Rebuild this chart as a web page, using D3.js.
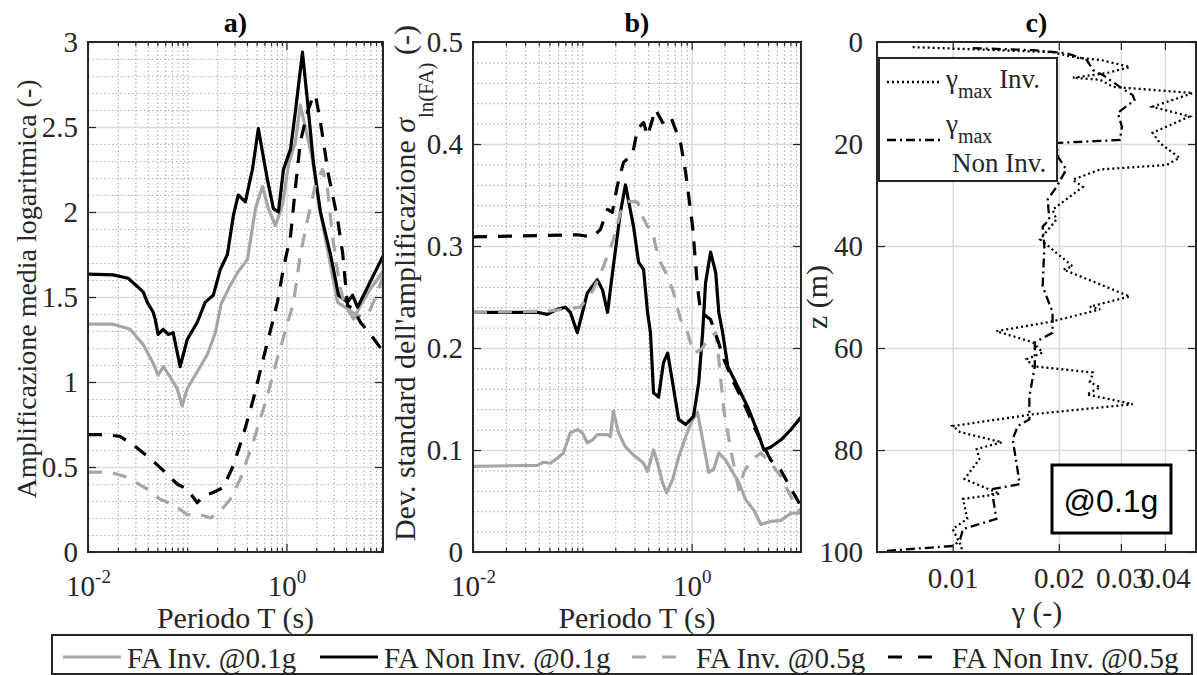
<!DOCTYPE html>
<html>
<head>
<meta charset="utf-8">
<script src="https://cdn.jsdelivr.net/npm/d3@7/dist/d3.min.js"></script>
<style>
  body { margin: 0; background: #fff; }
  svg text { font-family: "Liberation Serif", "Times New Roman", serif; fill: #262626; }
</style>
</head>
<body>
<svg id="fig" width="1197" height="675"></svg>
<script>
// ---- data: [period (s), value] ----
const faInv01A = [[0.01,1.34],[0.0179,1.34],[0.0266,1.31],[0.036,1.22],[0.0454,1.11],[0.0509,1.04],[0.0573,1.09],[0.0673,1.03],[0.0792,0.96],[0.089,0.86],[0.1,0.96],[0.126,1.06],[0.159,1.16],[0.192,1.29],[0.22,1.46],[0.272,1.57],[0.327,1.65],[0.404,1.72],[0.487,2.02],[0.573,2.15],[0.658,2.02],[0.774,1.92],[0.911,2.04],[1.05,2.28],[1.23,2.41],[1.38,2.63],[1.56,2.49],[1.83,2.31],[2.10,2.06],[2.65,1.75],[3.27,1.47],[4.13,1.43],[4.75,1.37],[5.58,1.45],[7.04,1.55],[9.4,1.65]];
const faNonInv01A = [[0.01,1.635],[0.0179,1.63],[0.0254,1.61],[0.036,1.53],[0.0395,1.47],[0.0454,1.41],[0.0475,1.37],[0.0509,1.28],[0.0573,1.31],[0.0643,1.28],[0.0722,1.29],[0.0849,1.09],[0.1,1.25],[0.126,1.35],[0.152,1.47],[0.183,1.51],[0.215,1.66],[0.254,1.75],[0.292,1.98],[0.327,2.1],[0.385,2.06],[0.454,2.25],[0.521,2.49],[0.643,2.19],[0.739,2.02],[0.83,2.0],[0.933,2.25],[1.10,2.37],[1.23,2.59],[1.45,2.94],[1.63,2.65],[1.87,2.29],[2.20,2.0],[2.78,1.75],[3.35,1.51],[4.13,1.47],[4.64,1.51],[5.21,1.44],[5.99,1.51],[7.56,1.63],[9.4,1.74]];
const faInv05A = [[0.01,0.47],[0.0167,0.47],[0.0248,0.44],[0.0395,0.37],[0.0533,0.31],[0.0722,0.28],[0.1,0.22],[0.135,0.22],[0.171,0.20],[0.215,0.24],[0.272,0.31],[0.343,0.43],[0.464,0.65],[0.643,0.92],[0.811,1.14],[1.02,1.34],[1.18,1.47],[1.38,1.75],[1.67,1.98],[1.96,2.16],[2.31,2.25],[2.59,2.14],[2.91,1.86],[3.35,1.61],[3.77,1.47],[4.13,1.43],[5.21,1.39],[6.57,1.39],[7.93,1.5],[9.4,1.62]];
const faNonInv05A = [[0.01,0.69],[0.0156,0.69],[0.021,0.68],[0.0285,0.63],[0.0423,0.55],[0.0573,0.48],[0.0792,0.40],[0.1,0.37],[0.126,0.29],[0.145,0.33],[0.183,0.35],[0.231,0.38],[0.292,0.51],[0.368,0.69],[0.464,0.9],[0.586,1.14],[0.722,1.35],[0.811,1.47],[0.933,1.67],[1.10,1.86],[1.23,2.14],[1.38,2.41],[1.63,2.59],[1.83,2.67],[1.96,2.69],[2.20,2.53],[2.65,2.22],[3.27,1.96],[3.68,1.76],[3.95,1.57],[4.13,1.45],[4.75,1.43],[5.58,1.35],[7.04,1.28],[9.4,1.18]];

const faInv01B = [[0.01,0.084],[0.0387,0.085],[0.0439,0.088],[0.0509,0.087],[0.059,0.092],[0.067,0.097],[0.0776,0.117],[0.09,0.12],[0.1,0.117],[0.111,0.107],[0.124,0.11],[0.137,0.115],[0.17,0.115],[0.181,0.113],[0.192,0.138],[0.214,0.117],[0.248,0.103],[0.294,0.095],[0.363,0.087],[0.395,0.079],[0.448,0.1],[0.488,0.087],[0.542,0.068],[0.59,0.058],[0.67,0.071],[0.76,0.093],[0.881,0.113],[1.02,0.13],[1.13,0.137],[1.26,0.11],[1.43,0.078],[1.59,0.081],[1.77,0.097],[2.05,0.09],[2.38,0.078],[2.70,0.068],[3.13,0.051],[3.71,0.041],[4.30,0.027],[5.31,0.03],[6.56,0.031],[8.09,0.038],[10,0.038]];
const faNonInv01B = [[0.01,0.235],[0.0387,0.235],[0.0477,0.233],[0.059,0.238],[0.0699,0.24],[0.0776,0.235],[0.09,0.215],[0.102,0.238],[0.111,0.254],[0.137,0.267],[0.153,0.257],[0.17,0.235],[0.192,0.28],[0.223,0.333],[0.248,0.36],[0.294,0.319],[0.327,0.284],[0.363,0.277],[0.395,0.235],[0.42,0.215],[0.448,0.156],[0.498,0.152],[0.553,0.186],[0.603,0.195],[0.67,0.166],[0.76,0.13],[0.881,0.125],[1.04,0.133],[1.16,0.166],[1.26,0.215],[1.34,0.264],[1.49,0.294],[1.66,0.274],[1.77,0.235],[1.92,0.215],[2.14,0.182],[2.64,0.162],[3.26,0.142],[4.03,0.117],[4.58,0.1],[5.31,0.103],[6.56,0.11],[8.09,0.12],[10,0.132]];
const faInv05B = [[0.01,0.235],[0.0477,0.236],[0.0959,0.24],[0.126,0.257],[0.156,0.28],[0.192,0.306],[0.223,0.333],[0.259,0.344],[0.32,0.343],[0.355,0.329],[0.395,0.319],[0.439,0.316],[0.467,0.3],[0.519,0.284],[0.603,0.27],[0.684,0.254],[0.76,0.235],[0.793,0.228],[0.918,0.215],[1.04,0.195],[1.21,0.198],[1.49,0.211],[1.66,0.215],[1.77,0.189],[1.97,0.139],[2.28,0.1],[2.70,0.061],[3.0,0.078],[3.48,0.09],[4.30,0.097],[5.31,0.087],[6.56,0.074],[8.09,0.054],[10,0.038]];
const faNonInv05B = [[0.01,0.309],[0.09,0.311],[0.124,0.309],[0.146,0.316],[0.17,0.336],[0.188,0.333],[0.209,0.359],[0.238,0.382],[0.288,0.39],[0.32,0.415],[0.363,0.421],[0.395,0.408],[0.467,0.434],[0.542,0.421],[0.642,0.427],[0.793,0.401],[0.881,0.372],[1.02,0.319],[1.13,0.26],[1.21,0.235],[1.49,0.228],[1.73,0.208],[1.97,0.189],[2.43,0.166],[3.0,0.146],[3.71,0.123],[4.58,0.103],[5.31,0.09],[6.56,0.08],[8.09,0.062],[10,0.045]];

// panel c: [gamma (-), depth z (m)]
const gammaInv = [[0.0077,1.0],[0.0192,2.0],[0.0225,3.1],[0.0262,3.5],[0.0318,4.9],[0.0274,6.1],[0.0219,7.0],[0.0262,7.4],[0.0285,8.8],[0.048,10],[0.0369,12.7],[0.047,14.6],[0.0369,17.8],[0.0387,19.8],[0.044,22.7],[0.0405,24.1],[0.0262,25],[0.0219,27],[0.0234,28.4],[0.0192,32.9],[0.0197,34.8],[0.0177,38.7],[0.0219,44],[0.0206,44.6],[0.0318,49.9],[0.0245,51.9],[0.0262,52.4],[0.0192,54.8],[0.0133,56.7],[0.0169,58.9],[0.018,60.9],[0.0162,62.2],[0.0169,63.6],[0.025,64.8],[0.0245,66.7],[0.0262,67.7],[0.024,69.1],[0.0324,71],[0.0169,73],[0.01,75.3],[0.0105,76.5],[0.0138,78.5],[0.0117,79.8],[0.0119,81.8],[0.0108,85.7],[0.0136,88.6],[0.0107,89.6],[0.011,93.5],[0.01,95.5],[0.0106,99],[0.0106,100]];
const gammaNonInv = [[0.0114,1.2],[0.0169,1.6],[0.021,2.2],[0.024,3.5],[0.025,5.5],[0.0267,6.5],[0.0298,8.8],[0.0324,10.4],[0.0328,11.4],[0.0294,13.9],[0.0302,16.6],[0.0298,19.2],[0.0197,19.8],[0.0199,22.5],[0.021,25],[0.0197,28.4],[0.0186,30.9],[0.0188,34.8],[0.018,36.2],[0.0182,40.1],[0.018,47.9],[0.0192,53],[0.0192,57],[0.0171,58.9],[0.0171,63.6],[0.0165,69.5],[0.0165,74],[0.0153,75.3],[0.0148,77.9],[0.0155,86.7],[0.0129,87.7],[0.0133,93.5],[0.0107,95.5],[0.0105,97.5],[0.0101,98.8],[0.0064,99.8]];

// ---- ticks and labels ----
const yTicksA = [0, 0.5, 1, 1.5, 2, 2.5, 3];
const yTicksB = [0, 0.1, 0.2, 0.3, 0.4, 0.5];
const periodTicks = [0.01, 1];
const periodTickExp = ["-2", "0"];
const depthTicks = [0, 20, 40, 60, 80, 100];
const gammaTicks = [0.01, 0.02, 0.03, 0.04];
const legendLabels = ["FA Inv. @0.1g", "FA Non Inv. @0.1g", "FA Inv. @0.5g", "FA Non Inv. @0.5g"];

const AX = "#262626", GRAY = "#a6a6a6", GRID = "#dcdcdc", MINOR = "#b4b4b4";
const DASH = "14,11";
const TICK_FONT = 29;
const seriesStyle = [
  { color: GRAY, dash: null },
  { color: "#000", dash: null },
  { color: GRAY, dash: DASH },
  { color: "#000", dash: DASH }
];

const svg = d3.select("#fig");
const TOP = 42, BOTTOM = 552;

// minor positions of a log axis (2..9 x 10^k, plus 0.1 which has no label)
function logMinor(lo, hi) {
  const v = [];
  for (let k = -2; k <= 1; k++) {
    for (let m = 1; m <= 9; m++) {
      const t = +(m * Math.pow(10, k)).toPrecision(3);
      if (t > lo * 1.001 && t < hi * 0.999 && t !== 1) v.push(t);
    }
  }
  return v;
}

function styleAxis(g) {
  g.attr("font-family", null).attr("font-size", null).attr("color", AX);
  g.select(".domain").remove();
  g.selectAll("line").attr("stroke-width", 1.2);
}

function spectrumPanel(p) {
  const x = d3.scaleLog().domain([0.01, p.tMax]).range([p.left, p.right]);
  const y = d3.scaleLinear().domain([0, p.yMax]).range([BOTTOM, TOP]);
  const w = p.right - p.left, h = BOTTOM - TOP;
  const g = svg.append("g");

  // dotted minor grid
  const nMinor = Math.round(p.yMax / p.yMinor);
  const ratio = Math.round(p.yMajor / p.yMinor);
  const yMinorVals = d3.range(1, nMinor).filter(i => i % ratio !== 0).map(i => i * p.yMinor);
  g.append("g").attr("transform", `translate(0,${BOTTOM})`)
    .call(d3.axisBottom(x).tickValues(logMinor(0.01, p.tMax)).tickSize(-h).tickFormat(""))
    .call(styleAxis)
    .selectAll("line").attr("stroke", MINOR).attr("stroke-dasharray", "1.5,2.5");
  g.append("g").attr("transform", `translate(${p.left},0)`)
    .call(d3.axisLeft(y).tickValues(yMinorVals).tickSize(-w).tickFormat(""))
    .call(styleAxis)
    .selectAll("line").attr("stroke", MINOR).attr("stroke-dasharray", "1.5,2.5");

  // solid major grid
  g.append("g").attr("transform", `translate(0,${BOTTOM})`)
    .call(d3.axisBottom(x).tickValues([1]).tickSize(-h).tickFormat(""))
    .call(styleAxis)
    .selectAll("line").attr("stroke", GRID).attr("stroke-width", 1.5);
  g.append("g").attr("transform", `translate(${p.left},0)`)
    .call(d3.axisLeft(y).tickValues(p.yTicks.slice(1, -1)).tickSize(-w).tickFormat(""))
    .call(styleAxis)
    .selectAll("line").attr("stroke", GRID).attr("stroke-width", 1.5);

  // curves
  const clipId = "clip-" + p.name;
  g.append("clipPath").attr("id", clipId).append("rect")
    .attr("x", p.left).attr("y", TOP).attr("width", w).attr("height", h);
  const line = d3.line().x(d => x(d[0])).y(d => y(d[1]));
  p.series.forEach((s, i) => {
    g.append("path").datum(s)
      .attr("clip-path", `url(#${clipId})`)
      .attr("fill", "none")
      .attr("stroke", seriesStyle[i].color)
      .attr("stroke-width", 3.2)
      .attr("stroke-linejoin", "round")
      .attr("stroke-dasharray", seriesStyle[i].dash)
      .attr("d", line);
  });

  // ticks: minor on x, major on both
  g.append("g").attr("transform", `translate(0,${BOTTOM})`)
    .call(d3.axisBottom(x).tickValues(logMinor(0.01, p.tMax)).tickSize(-4).tickFormat(""))
    .call(styleAxis);
  g.append("g").attr("transform", `translate(0,${TOP})`)
    .call(d3.axisTop(x).tickValues(logMinor(0.01, p.tMax)).tickSize(-4).tickFormat(""))
    .call(styleAxis);
  g.append("g").attr("transform", `translate(0,${TOP})`)
    .call(d3.axisTop(x).tickValues(periodTicks).tickSize(-8).tickFormat(""))
    .call(styleAxis);
  g.append("g").attr("transform", `translate(${p.right},0)`)
    .call(d3.axisRight(y).tickValues(p.yTicks).tickSize(-8).tickFormat(""))
    .call(styleAxis);

  const xAx = g.append("g").attr("transform", `translate(0,${BOTTOM})`)
    .call(d3.axisBottom(x).tickValues(periodTicks).tickSize(-8).tickFormat(""))
    .call(styleAxis);
  xAx.selectAll(".tick text").each(function (d, i) {
    const t = d3.select(this).attr("y", 44).attr("dy", null).attr("font-size", TICK_FONT).text("10");
    t.append("tspan").attr("dy", -13).attr("font-size", 19).text(periodTickExp[i]);
  });

  g.append("g").attr("transform", `translate(${p.left},0)`)
    .call(d3.axisLeft(y).tickValues(p.yTicks).tickSize(-8).tickPadding(10).tickFormat(d3.format("")))
    .call(styleAxis)
    .selectAll("text").attr("font-size", TICK_FONT).attr("dy", "0.33em");

  // frame
  g.append("rect").attr("x", p.left).attr("y", TOP).attr("width", w).attr("height", h)
    .attr("fill", "none").attr("stroke", AX).attr("stroke-width", 2);

  // title and x label
  g.append("text").attr("x", (p.left + p.right) / 2).attr("y", 32)
    .attr("text-anchor", "middle").attr("font-size", 28).attr("font-weight", "bold")
    .style("fill", "#000").text(p.title);
  g.append("text").attr("x", (p.left + p.right) / 2).attr("y", 628)
    .attr("text-anchor", "middle").attr("font-size", 30).text("Periodo T (s)");
  return g;
}

// ---- panel a ----
spectrumPanel({
  name: "a", left: 88, right: 383, tMax: 9.4, yMax: 3, yMajor: 0.5, yMinor: 0.1,
  yTicks: yTicksA, title: "a)", series: [faInv01A, faNonInv01A, faInv05A, faNonInv05A]
});
svg.append("text").attr("transform", "translate(36,289) rotate(-90)")
  .attr("text-anchor", "middle").attr("font-size", 28)
  .text("Amplificazione media logaritmica (-)");

// ---- panel b ----
spectrumPanel({
  name: "b", left: 473, right: 801, tMax: 10, yMax: 0.5, yMajor: 0.1, yMinor: 0.02,
  yTicks: yTicksB, title: "b)", series: [faInv01B, faNonInv01B, faInv05B, faNonInv05B]
});
const yLabB = svg.append("text").attr("transform", "translate(415,283) rotate(-90)")
  .attr("text-anchor", "middle").attr("font-size", 30);
yLabB.append("tspan").text("Dev. standard dell'amplificazione ");
yLabB.append("tspan").attr("font-style", "italic").text("σ");
yLabB.append("tspan").attr("dy", 18).attr("font-size", 21).text("ln(FA)");
yLabB.append("tspan").attr("dy", -18).text(" (-)");

// ---- panel c ----
{
  const left = 877, right = 1196, w = right - left, h = BOTTOM - TOP;
  const x = d3.scaleLog().domain([0.0061, 0.049]).range([left, right]);
  const y = d3.scaleLinear().domain([0, 100]).range([TOP, BOTTOM]);
  const g = svg.append("g");

  g.append("g").attr("transform", `translate(0,${BOTTOM})`)
    .call(d3.axisBottom(x).tickValues(gammaTicks).tickSize(-h).tickFormat(""))
    .call(styleAxis)
    .selectAll("line").attr("stroke", GRID).attr("stroke-width", 1.5);
  g.append("g").attr("transform", `translate(${left},0)`)
    .call(d3.axisLeft(y).tickValues(depthTicks.slice(1, -1)).tickSize(-w).tickFormat(""))
    .call(styleAxis)
    .selectAll("line").attr("stroke", GRID).attr("stroke-width", 1.5);

  g.append("clipPath").attr("id", "clip-c").append("rect")
    .attr("x", left).attr("y", TOP).attr("width", w).attr("height", h);
  const line = d3.line().x(d => x(d[0])).y(d => y(d[1]));
  g.append("path").datum(gammaInv).attr("clip-path", "url(#clip-c)")
    .attr("fill", "none").attr("stroke", "#000").attr("stroke-width", 2.3)
    .attr("stroke-dasharray", "2,3").attr("d", line);
  g.append("path").datum(gammaNonInv).attr("clip-path", "url(#clip-c)")
    .attr("fill", "none").attr("stroke", "#000").attr("stroke-width", 2.3)
    .attr("stroke-dasharray", "9,4,2,4").attr("d", line);

  g.append("g").attr("transform", `translate(0,${TOP})`)
    .call(d3.axisTop(x).tickValues(gammaTicks).tickSize(-8).tickFormat("")).call(styleAxis);
  g.append("g").attr("transform", `translate(${right},0)`)
    .call(d3.axisRight(y).tickValues(depthTicks).tickSize(-8).tickFormat("")).call(styleAxis);
  g.append("g").attr("transform", `translate(0,${BOTTOM})`)
    .call(d3.axisBottom(x).tickValues(gammaTicks).tickSize(-8).tickFormat(d3.format(".2f")))
    .call(styleAxis)
    .selectAll("text").attr("font-size", TICK_FONT).attr("y", 36).attr("dy", null);
  g.append("g").attr("transform", `translate(${left},0)`)
    .call(d3.axisLeft(y).tickValues(depthTicks).tickSize(-8).tickPadding(14).tickFormat(d3.format("")))
    .call(styleAxis)
    .selectAll("text").attr("font-size", TICK_FONT).attr("dy", "0.33em");

  g.append("rect").attr("x", left).attr("y", TOP).attr("width", w).attr("height", h)
    .attr("fill", "none").attr("stroke", AX).attr("stroke-width", 2);

  g.append("text").attr("x", (left + right) / 2).attr("y", 32)
    .attr("text-anchor", "middle").attr("font-size", 28).attr("font-weight", "bold")
    .style("fill", "#000").text("c)");
  g.append("text").attr("x", 1037).attr("y", 622).attr("text-anchor", "middle")
    .attr("font-size", 30).text("γ (-)");
  g.append("text").attr("transform", "translate(827,297) rotate(-90)")
    .attr("text-anchor", "middle").attr("font-size", 30).text("z (m)");

  // legend inside panel c
  const lg = g.append("g");
  lg.append("rect").attr("x", 879).attr("y", 58).attr("width", 178).attr("height", 123)
    .attr("fill", "#fff").attr("stroke", AX).attr("stroke-width", 2);
  lg.append("line").attr("x1", 887).attr("x2", 942).attr("y1", 82).attr("y2", 82)
    .attr("stroke", "#000").attr("stroke-width", 2.3).attr("stroke-dasharray", "2,3");
  lg.append("line").attr("x1", 887).attr("x2", 942).attr("y1", 140).attr("y2", 140)
    .attr("stroke", "#000").attr("stroke-width", 2.3).attr("stroke-dasharray", "9,4,2,4");
  const t1 = lg.append("text").attr("x", 946).attr("y", 88).attr("font-size", 27);
  t1.append("tspan").text("γ");
  t1.append("tspan").attr("dy", 10).attr("font-size", 20).text("max");
  t1.append("tspan").attr("dy", -10).text(" Inv.");
  const t2 = lg.append("text").attr("x", 946).attr("y", 133).attr("font-size", 27);
  t2.append("tspan").text("γ");
  t2.append("tspan").attr("dy", 10).attr("font-size", 20).text("max");
  lg.append("text").attr("x", 952).attr("y", 172).attr("font-size", 27).text("Non Inv.");

  // @0.1g annotation
  g.append("rect").attr("x", 1052).attr("y", 465).attr("width", 119).attr("height", 68)
    .attr("fill", "#fff").attr("stroke", "#000").attr("stroke-width", 3);
  g.append("text").attr("x", 1111).attr("y", 512).attr("text-anchor", "middle")
    .attr("font-size", 32).style("font-family", "'Liberation Sans', Arial, sans-serif")
    .style("fill", "#000").text("@0.1g");
}

// ---- shared legend at bottom ----
{
  const lg = svg.append("g");
  lg.append("rect").attr("x", 52).attr("y", 635).attr("width", 1140).attr("height", 39)
    .attr("fill", "#fff").attr("stroke", AX).attr("stroke-width", 2);
  const entryX = [63, 320, 632, 888];
  legendLabels.forEach((lab, i) => {
    lg.append("line").attr("x1", entryX[i]).attr("x2", entryX[i] + 58)
      .attr("y1", 657).attr("y2", 657)
      .attr("stroke", seriesStyle[i].color).attr("stroke-width", 3)
      .attr("stroke-dasharray", seriesStyle[i].dash ? "14,16" : null);
    lg.append("text").attr("x", entryX[i] + 64).attr("y", 668)
      .attr("font-size", 29).text(lab);
  });
}
</script>
</body>
</html>
